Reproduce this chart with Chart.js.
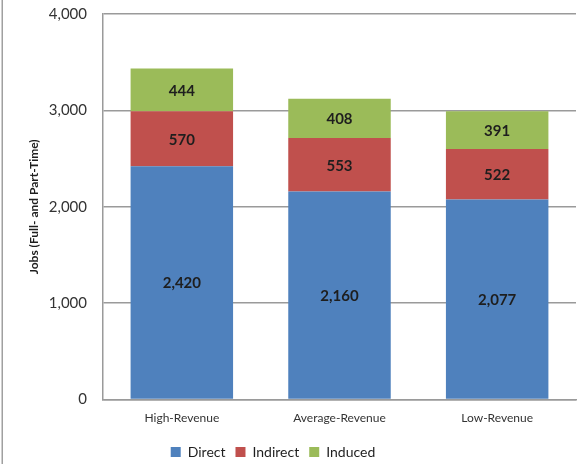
<!DOCTYPE html>
<html>
<head>
<meta charset="utf-8">
<script src="https://cdn.jsdelivr.net/npm/chart.js@4.4.1/dist/chart.umd.min.js"></script>
<style>
  html, body { margin: 0; padding: 0; background: #fff; }
  #wrap { position: relative; width: 583px; height: 464px; }
</style>
</head>
<body>
<div id="wrap"><canvas id="chart" width="583" height="464"></canvas></div>
<script>
// Revenue scenarios and job counts by effect type
const categories = ['High-Revenue', 'Average-Revenue', 'Low-Revenue'];
const directJobs = [2420, 2160, 2077];
const indirectJobs = [570, 553, 522];
const inducedJobs = [444, 408, 391];
const yTicks = [0, 1000, 2000, 3000, 4000];
const yAxisTitle = 'Jobs (Full- and Part-Time)';

const FONT = 'Lato, "Open Sans", sans-serif';
const GRID = '#9a9a9a';

// Value labels centred inside each stacked segment
const segmentLabels = {
  id: 'segmentLabels',
  afterDatasetsDraw(chart) {
    const ctx = chart.ctx;
    ctx.save();
    ctx.font = 'bold 15px ' + FONT;
    ctx.fillStyle = '#1e1e1e';
    ctx.textAlign = 'center';
    ctx.textBaseline = 'middle';
    chart.data.datasets.forEach((ds, i) => {
      chart.getDatasetMeta(i).data.forEach((bar, j) => {
        const y = (bar.y + bar.base) / 2;
        ctx.fillText(ds.data[j].toLocaleString('en-US'), bar.x, y + 1);
      });
    });
    ctx.restore();
  }
};

// Thin frame line along the left edge of the chart box
const frameEdge = {
  id: 'frameEdge',
  beforeDraw(chart) {
    const ctx = chart.ctx;
    ctx.save();
    ctx.strokeStyle = '#a0a0a0';
    ctx.lineWidth = 1.5;
    ctx.beginPath();
    ctx.moveTo(2.25, 0);
    ctx.lineTo(2.25, chart.height);
    ctx.stroke();
    ctx.restore();
  }
};

// Nudge the legend row a little left of the canvas centre
const legendShift = {
  id: 'legendShift',
  afterLayout(chart) {
    if (chart.legend) {
      chart.legend.left -= 15;
      chart.legend.right -= 15;
    }
  }
};

new Chart(document.getElementById('chart'), {
  type: 'bar',
  data: {
    labels: categories,
    datasets: [
      { label: 'Direct', data: directJobs, backgroundColor: '#4f81bd' },
      { label: 'Indirect', data: indirectJobs, backgroundColor: '#c0504d' },
      { label: 'Induced', data: inducedJobs, backgroundColor: '#9bbb59' }
    ]
  },
  options: {
    responsive: false,
    animation: false,
    devicePixelRatio: 1,
    barPercentage: 0.65,
    categoryPercentage: 1,
    layout: { autoPadding: false, padding: { top: 14, right: 7, bottom: -5, left: 0 } },
    scales: {
      x: {
        stacked: true,
        afterFit(scale) { scale.height -= 1; },
        grid: { display: false, drawTicks: false },
        border: { display: true, color: GRID, width: 1.5 },
        ticks: { padding: 11, color: '#333', font: { family: FONT, size: 12 } }
      },
      y: {
        stacked: true,
        min: 0,
        max: 4000,
        afterBuildTicks(scale) { scale.ticks = yTicks.map(v => ({ value: v })); },
        afterFit(scale) {
          scale.width = 103;
          scale.paddingTop = 0;
          scale.paddingBottom = 0;
        },
        grid: { color: GRID, lineWidth: 1.5, drawTicks: false },
        border: { display: true, color: GRID, width: 1.5 },
        ticks: {
          padding: 16,
          color: '#333',
          font: { family: FONT, size: 15 },
          callback: v => v.toLocaleString('en-US')
        },
        title: {
          display: true,
          text: yAxisTitle,
          color: '#1e1e1e',
          font: { family: FONT, size: 12, weight: 'bold' },
          padding: { top: 27, bottom: 0 }
        }
      }
    },
    plugins: {
      legend: {
        position: 'bottom',
        labels: {
          boxWidth: 10,
          boxHeight: 10,
          padding: 10,
          color: '#1e1e1e',
          font: { family: FONT, size: 14 }
        }
      },
      tooltip: { enabled: false }
    }
  },
  plugins: [segmentLabels, frameEdge, legendShift]
});
</script>
</body>
</html>
